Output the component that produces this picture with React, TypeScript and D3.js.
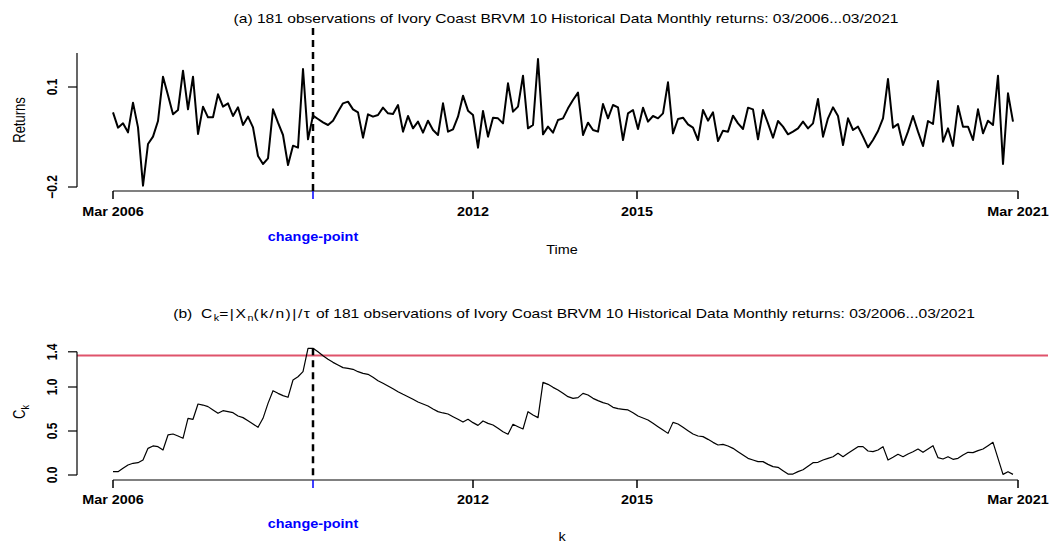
import React from 'react';
import * as d3 from 'd3';

// monthly returns, 181 observations (03/2006 ... 03/2021)
const returns = [
  0.024, -0.022, -0.009, -0.036, 0.053, -0.021, -0.196, -0.071, -0.049, -0.002,
  0.131, 0.075, 0.018, 0.031, 0.149, 0.033, 0.131, -0.041, 0.041, 0.009,
  0.009, 0.078, 0.041, 0.051, 0.013, 0.039, -0.014, 0.011, -0.021, -0.107,
  -0.131, -0.114, 0.033, -0.007, -0.044, -0.134, -0.076, -0.082, 0.154, -0.057,
  0.014, 0.004, -0.006, -0.014, -0.001, 0.026, 0.051, 0.056, 0.033, 0.024,
  -0.052, 0.018, 0.011, 0.016, 0.038, 0.021, 0.019, 0.046, -0.034, 0.013,
  -0.024, -0.004, -0.037, -0.001, -0.029, -0.044, 0.051, -0.034, -0.027, 0.011,
  0.074, 0.029, 0.016, -0.082, 0.028, -0.049, 0.008, 0.006, -0.009, 0.111,
  0.026, 0.041, 0.134, -0.024, -0.014, 0.184, -0.042, -0.019, -0.037, 0.001,
  0.006, 0.036, 0.061, 0.083, -0.044, -0.007, -0.029, -0.034, 0.049, 0.006,
  0.046, 0.039, -0.059, 0.021, 0.031, -0.026, 0.038, -0.004, 0.013, 0.006,
  0.021, 0.114, -0.039, 0.004, 0.008, -0.012, -0.022, -0.059, 0.031, -0.001,
  0.024, -0.062, -0.031, -0.034, 0.014, -0.009, -0.026, 0.038, 0.033, -0.057,
  0.031, -0.009, -0.052, -0.002, -0.019, -0.042, -0.034, -0.024, -0.004, -0.024,
  -0.009, 0.064, -0.049, 0.006, 0.039, 0.013, -0.074, 0.006, -0.029, -0.019,
  -0.049, -0.081, -0.059, -0.032, 0.006, 0.124, -0.022, -0.011, -0.074, -0.034,
  0.013, -0.034, -0.077, -0.002, -0.011, 0.118, -0.064, -0.024, -0.077, 0.043,
  -0.019, -0.019, -0.059, 0.033, -0.039, -0.001, -0.014, 0.134, -0.131, 0.081,
  -0.004,
];

// C_k statistic
const ck = [
  0.038, 0.038, 0.076, 0.114, 0.133, 0.140, 0.170, 0.303, 0.330, 0.322,
  0.284, 0.455, 0.466, 0.443, 0.417, 0.644, 0.633, 0.807, 0.795, 0.777,
  0.739, 0.701, 0.731, 0.720, 0.708, 0.670, 0.652, 0.617, 0.580, 0.542,
  0.644, 0.814, 0.958, 0.928, 0.902, 0.883, 1.080, 1.117, 1.174, 1.439,
  1.439, 1.401, 1.356, 1.315, 1.280, 1.250, 1.220, 1.212, 1.201, 1.174,
  1.155, 1.144, 1.110, 1.072, 1.042, 1.011, 0.981, 0.947, 0.917, 0.890,
  0.860, 0.830, 0.807, 0.784, 0.750, 0.720, 0.705, 0.693, 0.663, 0.633,
  0.602, 0.633, 0.595, 0.564, 0.614, 0.587, 0.568, 0.530, 0.492, 0.462,
  0.576, 0.549, 0.523, 0.720, 0.682, 0.652, 1.053, 1.030, 0.996, 0.966,
  0.928, 0.890, 0.871, 0.879, 0.928, 0.909, 0.871, 0.845, 0.822, 0.807,
  0.769, 0.754, 0.746, 0.739, 0.708, 0.670, 0.648, 0.625, 0.587, 0.549,
  0.511, 0.473, 0.598, 0.580, 0.542, 0.504, 0.466, 0.443, 0.436, 0.405,
  0.371, 0.341, 0.348, 0.330, 0.303, 0.265, 0.227, 0.189, 0.170, 0.152,
  0.152, 0.121, 0.095, 0.087, 0.049, 0.011, 0.011, 0.038, 0.060, 0.100,
  0.140, 0.144, 0.170, 0.189, 0.208, 0.246, 0.208, 0.246, 0.284, 0.322,
  0.322, 0.273, 0.265, 0.284, 0.322, 0.170, 0.201, 0.235, 0.208, 0.239,
  0.265, 0.295, 0.258, 0.295, 0.333, 0.197, 0.182, 0.208, 0.178, 0.189,
  0.227, 0.258, 0.254, 0.277, 0.295, 0.333, 0.371, 0.189, 0.007, 0.038,
  0.007,
];

const changePoint = 40;
const threshold = 1.358;

const xTickPos = [0, 72, 104.8, 181];
const xTickLabels = ['Mar 2006', '2012', '2015', 'Mar 2021'];
const retTicks = [-0.2, 0.1];
const retTickLabels = ['\u22120.2', '0.1'];
const ckTicks = [0, 0.5, 1.0, 1.4];
const ckTickLabels = ['0.0', '0.5', '1.0', '1.4'];

const font = 'Liberation Sans, Arial, Helvetica, sans-serif';
const SX = 1.2; // the original is stretched horizontally

const x = d3.scaleLinear().domain([0, 181]).range([113, 1018]);
const yTop = d3.scaleLinear().domain([-0.2, 0.1]).range([187, 87]);
const yBot = d3.scaleLinear().domain([0, 1]).range([475, 387]);

const topLine = d3.line<number>().x((_, i) => x(i)).y(d => yTop(d));
const botLine = d3.line<number>().x((_, i) => x(i)).y(d => yBot(d));

// text stretched horizontally around its anchor
const T = ({ x, y, children, ...rest }: any) => (
  <text transform={`translate(${x},${y}) scale(${SX},1)`} textAnchor="middle" {...rest}>
    {children}
  </text>
);

const XAxis = ({ y0, labelY, cpY }: { y0: number; labelY: number; cpY: number }) => (
  <g>
    <line x1={x(0)} x2={x(181)} y1={y0} y2={y0} stroke="#808080" strokeWidth={2} />
    {xTickPos.map((t, i) => (
      <g key={i}>
        <line x1={x(t)} x2={x(t)} y1={y0} y2={y0 + 8} stroke="#000" strokeWidth={1.5} />
        <T x={x(t)} y={labelY} fontWeight="bold" fontSize={12}>
          {xTickLabels[i]}
        </T>
      </g>
    ))}
    <line x1={x(changePoint)} x2={x(changePoint)} y1={y0} y2={y0 + 8} stroke="#0000FF" strokeWidth={1.5} />
    <T x={x(changePoint)} y={cpY} fontWeight="bold" fontSize={12} fill="#0000FF">
      change-point
    </T>
  </g>
);

const YAxis = ({ scale, ticks, labels, top, bottom }: any) => (
  <g>
    <line x1={77} x2={77} y1={top} y2={bottom} stroke="#000" strokeWidth={1.2} />
    {ticks.map((t: number, i: number) => (
      <g key={i}>
        <line x1={68} x2={77} y1={scale(t)} y2={scale(t)} stroke="#000" strokeWidth={1.2} />
        <text
          transform={`translate(57,${scale(t)}) rotate(-90) scale(1,${SX})`}
          textAnchor="middle"
          fontWeight="bold"
          fontSize={12}
        >
          {labels[i]}
        </text>
      </g>
    ))}
  </g>
);

export default function App() {
  return (
    <svg width={1054} height={544} style={{ position: 'absolute', left: 0, top: 0, background: '#fff' }} fontFamily={font}>
      {/* panel (a) */}
      <T x={566} y={23} fontSize={13}>
        (a) 181 observations of Ivory Coast BRVM 10 Historical Data Monthly returns: 03/2006...03/2021
      </T>
      <YAxis scale={yTop} ticks={retTicks} labels={retTickLabels} top={53} bottom={187} />
      <text transform={`translate(25,120) rotate(-90) scale(1,${SX})`} textAnchor="middle" fontSize={13}>Returns</text>
      <XAxis y0={191} labelY={216} cpY={241} />
      <T x={562} y={254} fontSize={12}>Time</T>
      <path d={topLine(returns) || ''} fill="none" stroke="#000" strokeWidth={2} strokeLinejoin="round" />
      <line x1={x(changePoint)} x2={x(changePoint)} y1={28} y2={191} stroke="#000" strokeWidth={2.5} strokeDasharray="7,5" />

      {/* panel (b) */}
      <T x={574} y={318} fontSize={13} xmlSpace="preserve">
        <tspan>(b)  </tspan>
        <tspan letterSpacing={1.3}>C</tspan>
        <tspan fontSize={9} dy={3}>k</tspan>
        <tspan dy={-3} letterSpacing={1.3}>=|X</tspan>
        <tspan fontSize={9} dy={3}>n</tspan>
        <tspan dy={-3} letterSpacing={1.3}>(k/n)|/τ</tspan>
        <tspan> of 181 observations of Ivory Coast BRVM 10 Historical Data Monthly returns: 03/2006...03/2021</tspan>
      </T>
      <line x1={77} x2={1048} y1={yBot(threshold)} y2={yBot(threshold)} stroke="#DF536B" strokeWidth={2} />
      <YAxis scale={yBot} ticks={ckTicks} labels={ckTickLabels} top={yBot(1.4)} bottom={yBot(0)} />
      <text transform={`translate(25,412) rotate(-90) scale(1,${SX})`} textAnchor="middle" fontSize={13}>
        C<tspan fontSize={9} dy={3}>k</tspan>
      </text>
      <XAxis y0={480} labelY={504} cpY={528} />
      <T x={562} y={541} fontSize={12}>k</T>
      <path d={botLine(ck) || ''} fill="none" stroke="#000" strokeWidth={1.2} strokeLinejoin="round" />
      <line x1={x(changePoint)} x2={x(changePoint)} y1={yBot(ck[changePoint])} y2={480} stroke="#000" strokeWidth={2.5} strokeDasharray="7,5" />
    </svg>
  );
}
